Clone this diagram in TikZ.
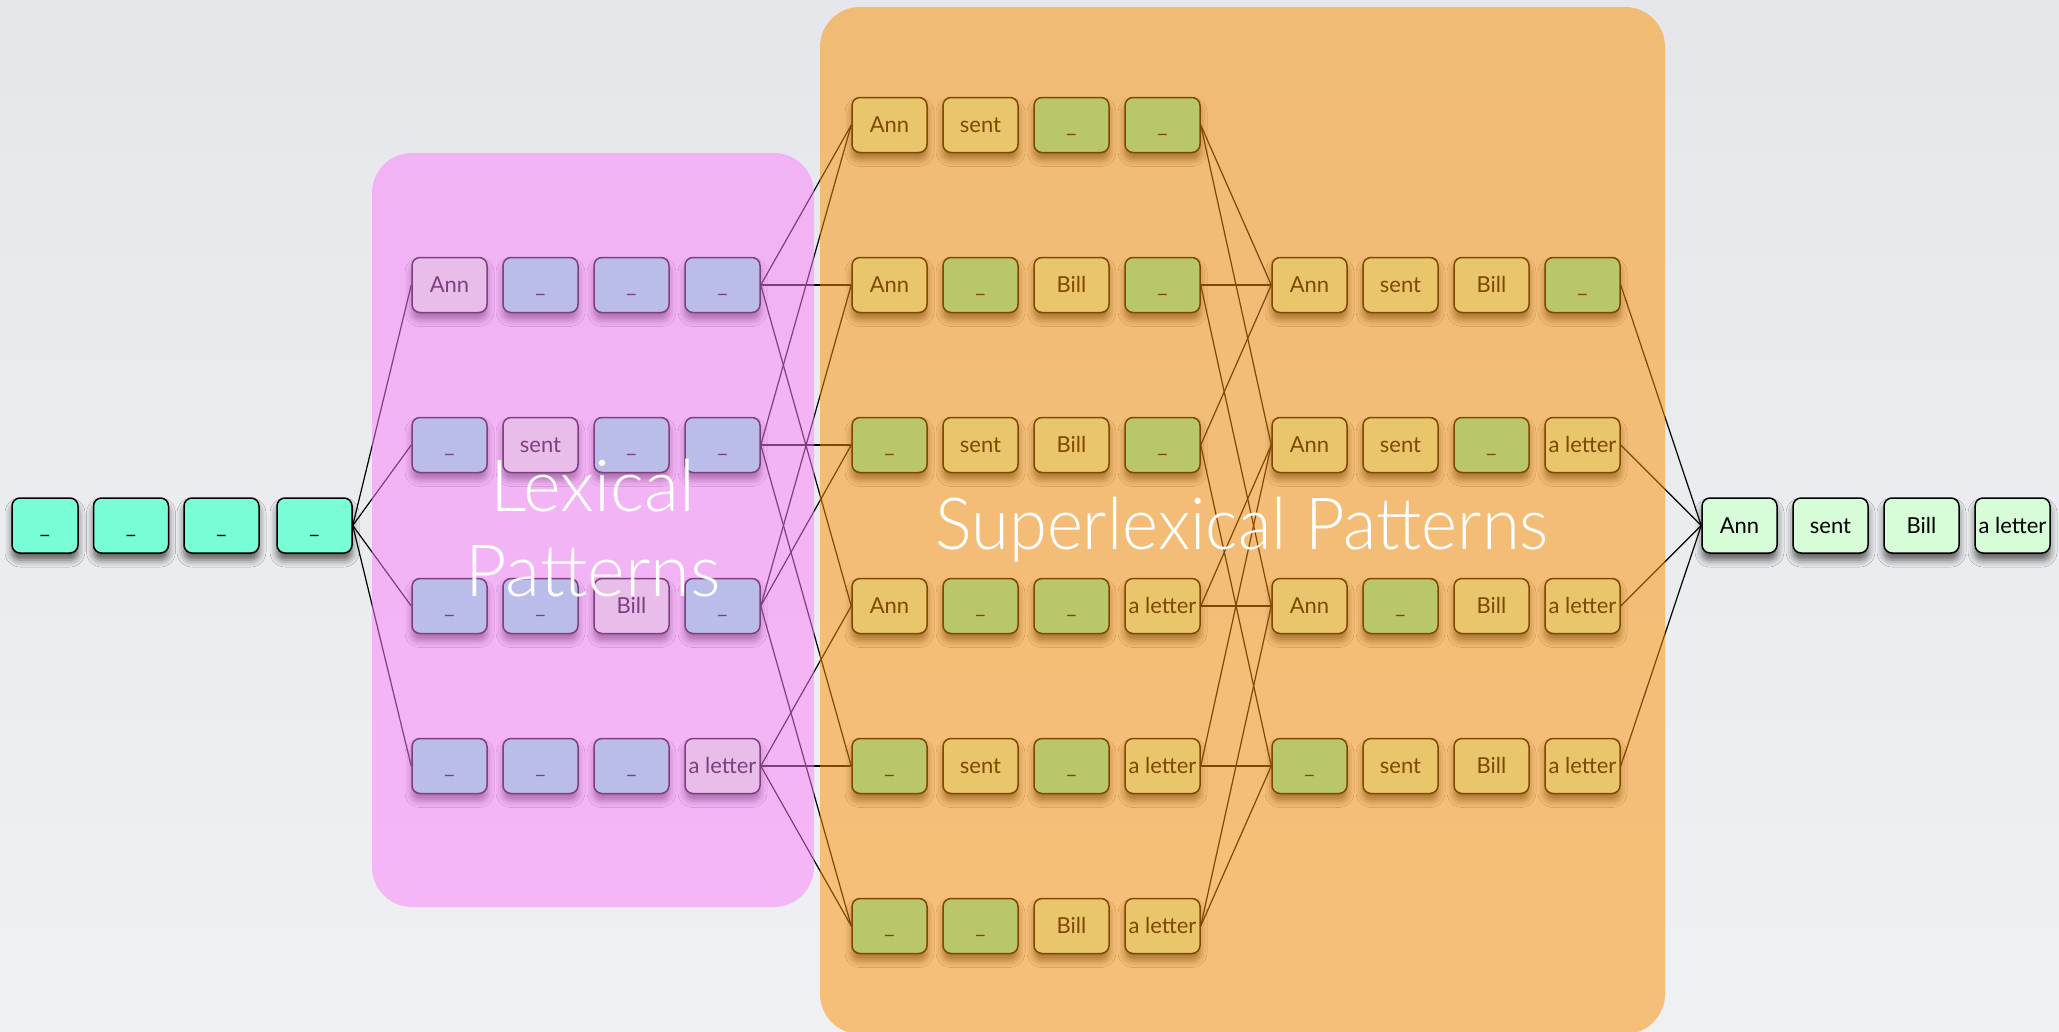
\documentclass[tikz,border=0pt]{standalone}
\usepackage{fontspec}
\setmainfont{Lato}
\newfontfamily\titlefont{Lato Light}
\usetikzlibrary{shadows.blur}
\definecolor{bgtop}{RGB}{229,231,235}
\definecolor{bgbot}{RGB}{240,241,244}
\definecolor{aqua}{RGB}{120,253,214}
\definecolor{lgreen}{RGB}{214,253,216}
\definecolor{pinkov}{RGB}{252,126,252}
\definecolor{orangeov}{RGB}{252,144,0}
\newcommand{\patrow}[4]{%
  \foreach \s/\t [count=\i] in {#4} {
    \node[\s] (#1\i) at ({#2+91*(\i-1)}, #3) {\t};
  }}
\begin{document}
\begin{tikzpicture}[x=1pt,y=-1pt,
  box/.style={draw=black, line width=1.5pt, rounded corners=8pt,
    minimum width=75pt, minimum height=55pt, inner sep=0pt,
    text height=15.5pt, text depth=0pt, font=\fontsize{22}{22}\selectfont,
    blur shadow={shadow xshift=0pt, shadow yshift=-7pt, shadow blur radius=7pt, shadow opacity=60}},
  wordbox/.style={box, fill=lgreen},
  blankbox/.style={box, fill=aqua},
  link/.style={draw=black, line width=1.2pt},
  title/.style={text=white, font=\titlefont\fontsize{72}{72}\selectfont, anchor=base, inner sep=0pt}]
\useasboundingbox (0,0) rectangle (2059,1031);
\foreach \k in {0,...,19} {
  \pgfmathsetmacro{\pct}{5*\k}
  \fill[bgbot!\pct!bgtop] (0,{\k*51.55}) rectangle (2059,{(\k+1)*51.55+1});
}

% start pattern
\node[blankbox, minimum width=66pt] (s1) at (45,525.5) {\_};
\node[blankbox] (s2) at (131,525.5) {\_};
\node[blankbox] (s3) at (221.5,525.5) {\_};
\node[blankbox] (s4) at (314.5,525.5) {\_};

% lexical patterns
\patrow{La}{449.5}{285}{wordbox/Ann, blankbox/\_, blankbox/\_, blankbox/\_}
\patrow{Lb}{449.5}{445}{blankbox/\_, wordbox/sent, blankbox/\_, blankbox/\_}
\patrow{Lc}{449.5}{606}{blankbox/\_, blankbox/\_, wordbox/Bill, blankbox/\_}
\patrow{Ld}{449.5}{766}{blankbox/\_, blankbox/\_, blankbox/\_, wordbox/a letter}

% superlexical column 1
\patrow{Aa}{889.5}{125}{wordbox/Ann, wordbox/sent, blankbox/\_, blankbox/\_}
\patrow{Ab}{889.5}{285}{wordbox/Ann, blankbox/\_, wordbox/Bill, blankbox/\_}
\patrow{Ac}{889.5}{445}{blankbox/\_, wordbox/sent, wordbox/Bill, blankbox/\_}
\patrow{Ad}{889.5}{606}{wordbox/Ann, blankbox/\_, blankbox/\_, wordbox/a letter}
\patrow{Ae}{889.5}{766}{blankbox/\_, wordbox/sent, blankbox/\_, wordbox/a letter}
\patrow{Af}{889.5}{926}{blankbox/\_, blankbox/\_, wordbox/Bill, wordbox/a letter}

% superlexical column 2
\patrow{Ba}{1309.5}{285}{wordbox/Ann, wordbox/sent, wordbox/Bill, blankbox/\_}
\patrow{Bb}{1309.5}{445}{wordbox/Ann, wordbox/sent, blankbox/\_, wordbox/a letter}
\patrow{Bc}{1309.5}{606}{wordbox/Ann, blankbox/\_, wordbox/Bill, wordbox/a letter}
\patrow{Bd}{1309.5}{766}{blankbox/\_, wordbox/sent, wordbox/Bill, wordbox/a letter}

% final sentence
\patrow{F}{1739.5}{525.5}{wordbox/Ann, wordbox/sent, wordbox/Bill, wordbox/a letter}

% connectors
\foreach \r in {La,Lb,Lc,Ld} \draw[link] (s4.east) -- (\r1.west);
\foreach \a/\b in {La/Aa, La/Ab, La/Ad, Lb/Aa, Lb/Ac, Lb/Ae, Lc/Ab, Lc/Ac, Lc/Af, Ld/Ad, Ld/Ae, Ld/Af}
  \draw[link] (\a4.east) -- (\b1.west);
\foreach \a/\b in {Aa/Ba, Aa/Bb, Ab/Ba, Ab/Bc, Ac/Ba, Ac/Bd, Ad/Bb, Ad/Bc, Ae/Bb, Ae/Bd, Af/Bc, Af/Bd}
  \draw[link] (\a4.east) -- (\b1.west);
\foreach \r in {Ba,Bb,Bc,Bd} \draw[link] (\r4.east) -- (F1.west);

% group overlays and titles
\fill[pinkov, fill opacity=0.5, rounded corners=40pt] (372,153) rectangle (814,907);
\fill[orangeov, fill opacity=0.5, rounded corners=40pt] (820,7) rectangle (1665,1034);
\node[title] (lex1) at (593,511) {Lexical};
\node[title] (lex2) at (593,596) {Patterns};
\node[title, xscale=0.955] (sup) at (1242,549) {Superlexical Patterns};
\end{tikzpicture}
\end{document}
